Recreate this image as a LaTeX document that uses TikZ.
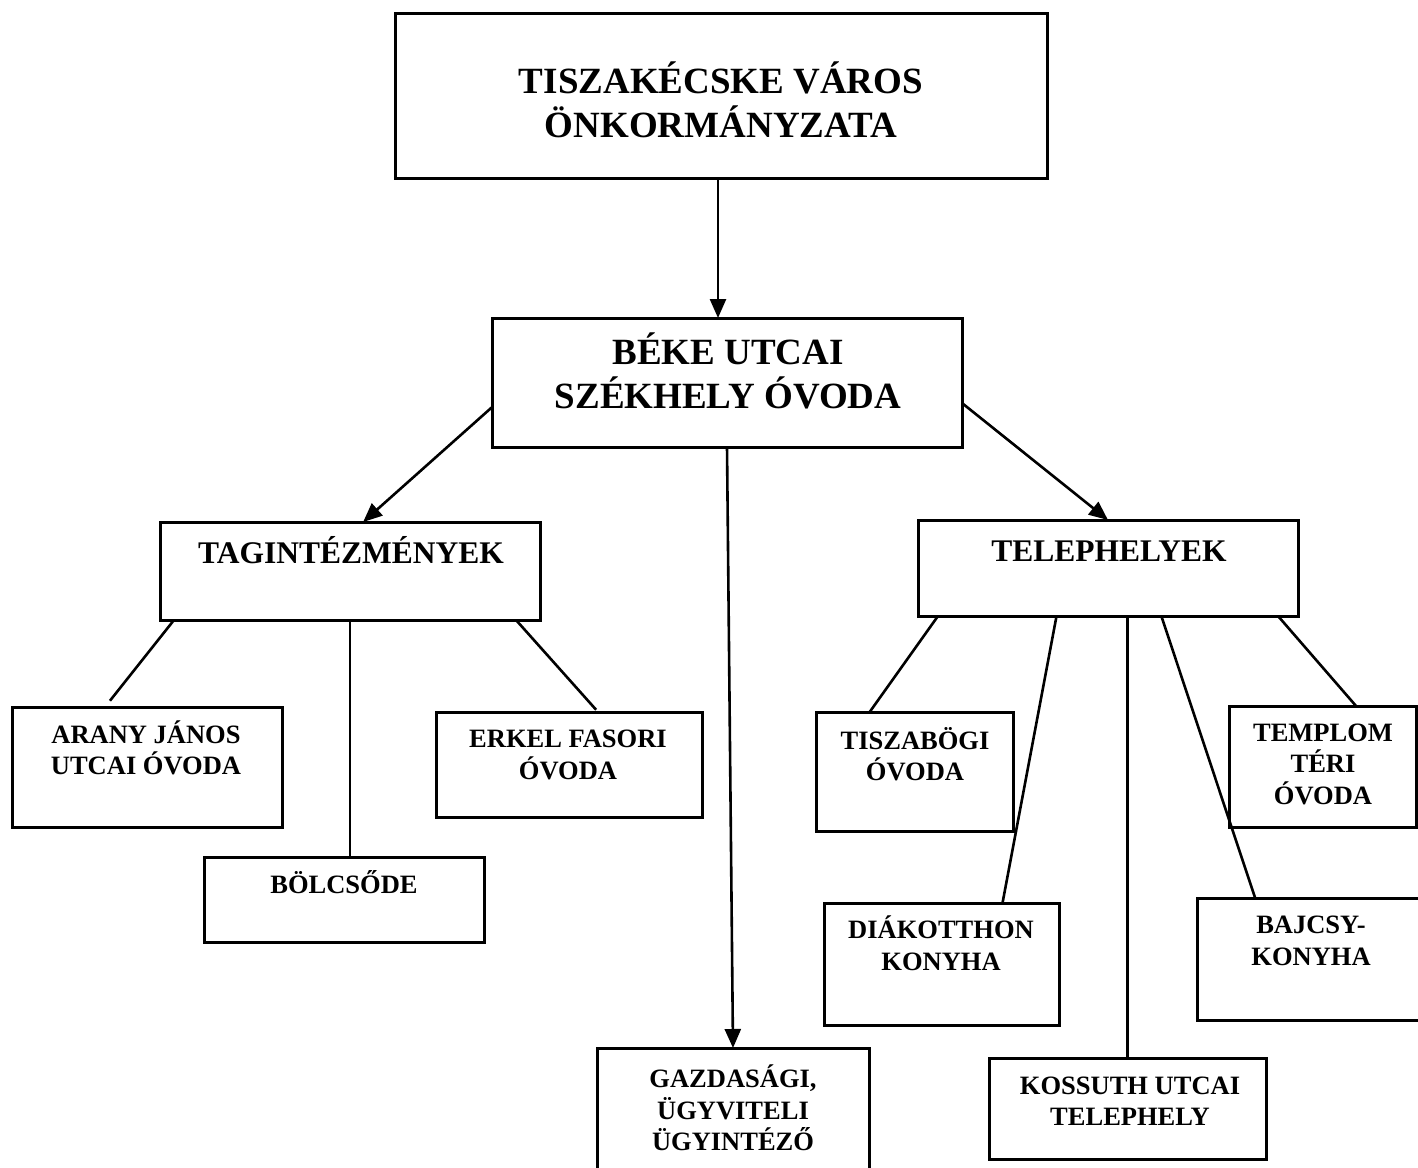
\documentclass[tikz,border=0pt]{standalone}
\usepackage{fontspec}
\setmainfont{Liberation Serif}
\usetikzlibrary{arrows.meta}

\begin{document}
\begin{tikzpicture}[x=1pt, y=-1pt,
  box/.style={draw, line width=3pt, inner sep=0pt, outer sep=0pt},
  lbig/.style={font=\fontsize{37}{44}\selectfont\bfseries, align=center, inner sep=0pt},
  lmid/.style={font=\fontsize{31.5}{38}\selectfont\bfseries, align=center, inner sep=0pt},
  lsmall/.style={font=\fontsize{26.5}{31.5}\selectfont\bfseries, align=center, inner sep=0pt},
  conn/.style={line width=2.6pt},
  arr/.style={conn, -{Triangle[length=19pt, width=16pt]}}]
\useasboundingbox (0,0) rectangle (1418,1167);
\node[box, minimum width=652pt, minimum height=165pt] (top) at (721, 95.5) {};
\node[box, minimum width=470pt, minimum height=129pt] (beke) at (727, 382.5) {};
\node[box, minimum width=380pt, minimum height=98pt] (tag) at (350, 571) {};
\node[box, minimum width=380pt, minimum height=96pt] (tel) at (1108, 568) {};
\node[box, minimum width=270pt, minimum height=120pt] (arany) at (147, 767) {};
\node[box, minimum width=280pt, minimum height=85pt] (bol) at (344, 899.5) {};
\node[box, minimum width=266pt, minimum height=105pt] (erkel) at (569, 764.5) {};
\node[box, minimum width=272pt, minimum height=135pt] (gaz) at (733, 1115.5) {};
\node[box, minimum width=197pt, minimum height=119pt] (tisz) at (914.5, 771.5) {};
\node[box, minimum width=235pt, minimum height=122pt] (dia) at (941.5, 964) {};
\node[box, minimum width=277pt, minimum height=101pt] (kos) at (1127.5, 1108.5) {};
\node[box, minimum width=187pt, minimum height=121pt] (tem) at (1322.5, 766.5) {};
\node[box, minimum width=230pt, minimum height=122pt] (baj) at (1312, 959) {};
\node[lbig] (toptxt) at (721, 100) {TISZAKÉCSKE VÁROS\\ÖNKORMÁNYZATA};
\node[lbig] (beketxt) at (728, 371) {BÉKE UTCAI\\SZÉKHELY ÓVODA};
\node[lmid] (tagtxt) at (351, 550) {TAGINTÉZMÉNYEK};
\node[lmid] (teltxt) at (1109, 551) {TELEPHELYEK};
\node[lsmall] (aranytxt) at (146, 748) {ARANY JÁNOS\\UTCAI ÓVODA};
\node[lsmall] (boltxt) at (344, 882) {BÖLCSŐDE};
\node[lsmall] (erkeltxt) at (568, 755) {ERKEL FASORI\\ÓVODA};
\node[lsmall] (gaztxt) at (733, 1108) {GAZDASÁGI,\\ÜGYVITELI\\ÜGYINTÉZŐ};
\node[lsmall] (tisztxt) at (915, 754) {TISZABÖGI\\ÓVODA};
\node[lsmall] (diatxt) at (941, 943) {DIÁKOTTHON\\KONYHA};
\node[lsmall] (kostxt) at (1130, 1101) {KOSSUTH UTCAI\\TELEPHELY};
\node[lsmall] (temtxt) at (1323, 764) {TEMPLOM\\TÉRI\\ÓVODA};
\node[lsmall] (bajtxt) at (1311, 941) {BAJCSY-\\KONYHA};
\draw[arr] ([xshift=-3pt]top.south) -- ([xshift=-3pt]top.south |- beke.north);
\draw[arr] (beke.186) -- (tag.75);
\draw[arr] (beke.-5) -- (tel.north);
\draw[arr] (beke.south) -- (gaz.north);
\draw[conn, shorten >=8pt] ([xshift=14pt]tag.south west) -- (arany.125);
\draw[conn] (tag.south) -- (tag.south |- bol.north);
\draw[conn, shorten >=3pt] ([xshift=-24pt]tag.south east) -- (erkel.61);
\draw[conn] ([xshift=20pt]tel.south west) -- (tisz.127.4);
\draw[conn] (tel.223.8) -- (dia.45.2);
\draw[conn] (kos.north |- tel.south) -- (kos.north);
\draw[conn] (tel.-42.7) -- (baj.133.3);
\draw[conn] ([xshift=-20pt]tel.south east) -- (tem.61.8);
\end{tikzpicture}
\end{document}
